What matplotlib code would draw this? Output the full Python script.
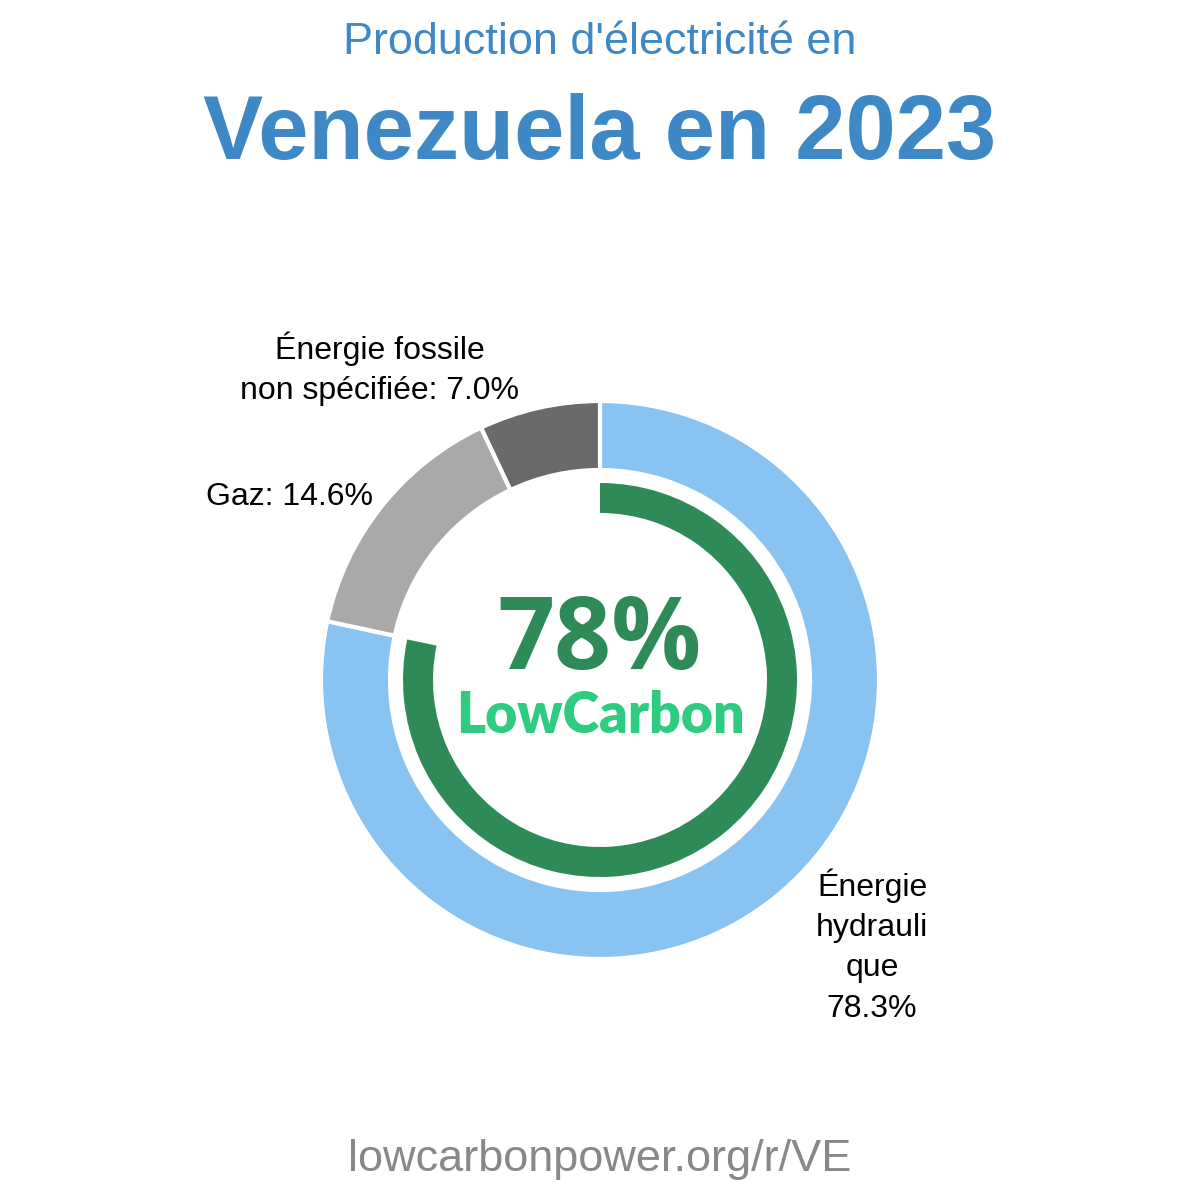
import matplotlib
matplotlib.use("Agg")
import matplotlib.pyplot as plt

# données
sources = ["Énergie\nhydrauli\nque", "Gaz", "Énergie fossile\nnon spécifiée"]
parts = [78.3, 14.6, 7.0]
couleurs = ["#89c3f2", "#a9a9a9", "#6a6a6a"]
bas_carbone = 78.3
pays = "Venezuela"
annee = 2023

plt.rcParams['font.family'] = ['Liberation Sans', 'DejaVu Sans']

fig = plt.figure(figsize=(12, 12), dpi=100)
ax = fig.add_axes([0, 0, 1, 1])

# anneau principal (centre à 600, 680 en pixels, y vers le haut)
cx, cy = 600, 520
ax.pie(parts, colors=couleurs, startangle=90, counterclock=False,
       radius=279, center=(cx, cy),
       wedgeprops=dict(width=69, edgecolor="white", linewidth=3))

# anneau bas carbone
ax.pie([bas_carbone, 100 - bas_carbone], colors=["#2e8b57", "none"],
       startangle=90, counterclock=False, radius=197, center=(cx, cy),
       wedgeprops=dict(width=30, linewidth=0))

ax.set_xlim(0, 1200)
ax.set_ylim(0, 1200)
ax.set_aspect("equal")
ax.axis("off")

# étiquettes
ax.text(872, 1200 - 946, f"{sources[0]}\n{parts[0]:.1f}%", ha="center", va="center",
        fontsize=23, linespacing=1.45, color="black")
ax.text(289, 1200 - 497, f"{sources[1]}: {parts[1]:.1f}%", ha="center", va="center",
        fontsize=23, color="black")
ax.text(380, 1200 - 369, f"{sources[2]}: {parts[2]:.1f}%", ha="center", va="center",
        fontsize=23, linespacing=1.45, color="black")

# centre
ax.text(cx, 1200 - 642, f"{bas_carbone:.0f}%", ha="center", va="center",
        fontsize=72, fontweight="bold", color="#2e8b57", family=["Open Sans", "DejaVu Sans"])
ax.text(cx, 1200 - 716, "LowCarbon", ha="center", va="center",
        fontsize=40, fontweight="heavy", color="#2ecc80", family=["Lato", "DejaVu Sans"])

# titres
ax.text(600, 1200 - 43, "Production d'électricité en", ha="center", va="center",
        fontsize=32.4, color="#3d88c5")
ax.text(600, 1200 - 136, f"{pays} en {annee}", ha="center", va="center",
        fontsize=65, fontweight="bold", color="#3d88c5")
ax.text(600, 1200 - 1160, "lowcarbonpower.org/r/VE", ha="center", va="center",
        fontsize=32.5, color="#888888")

fig.savefig("out.png", dpi=100)
